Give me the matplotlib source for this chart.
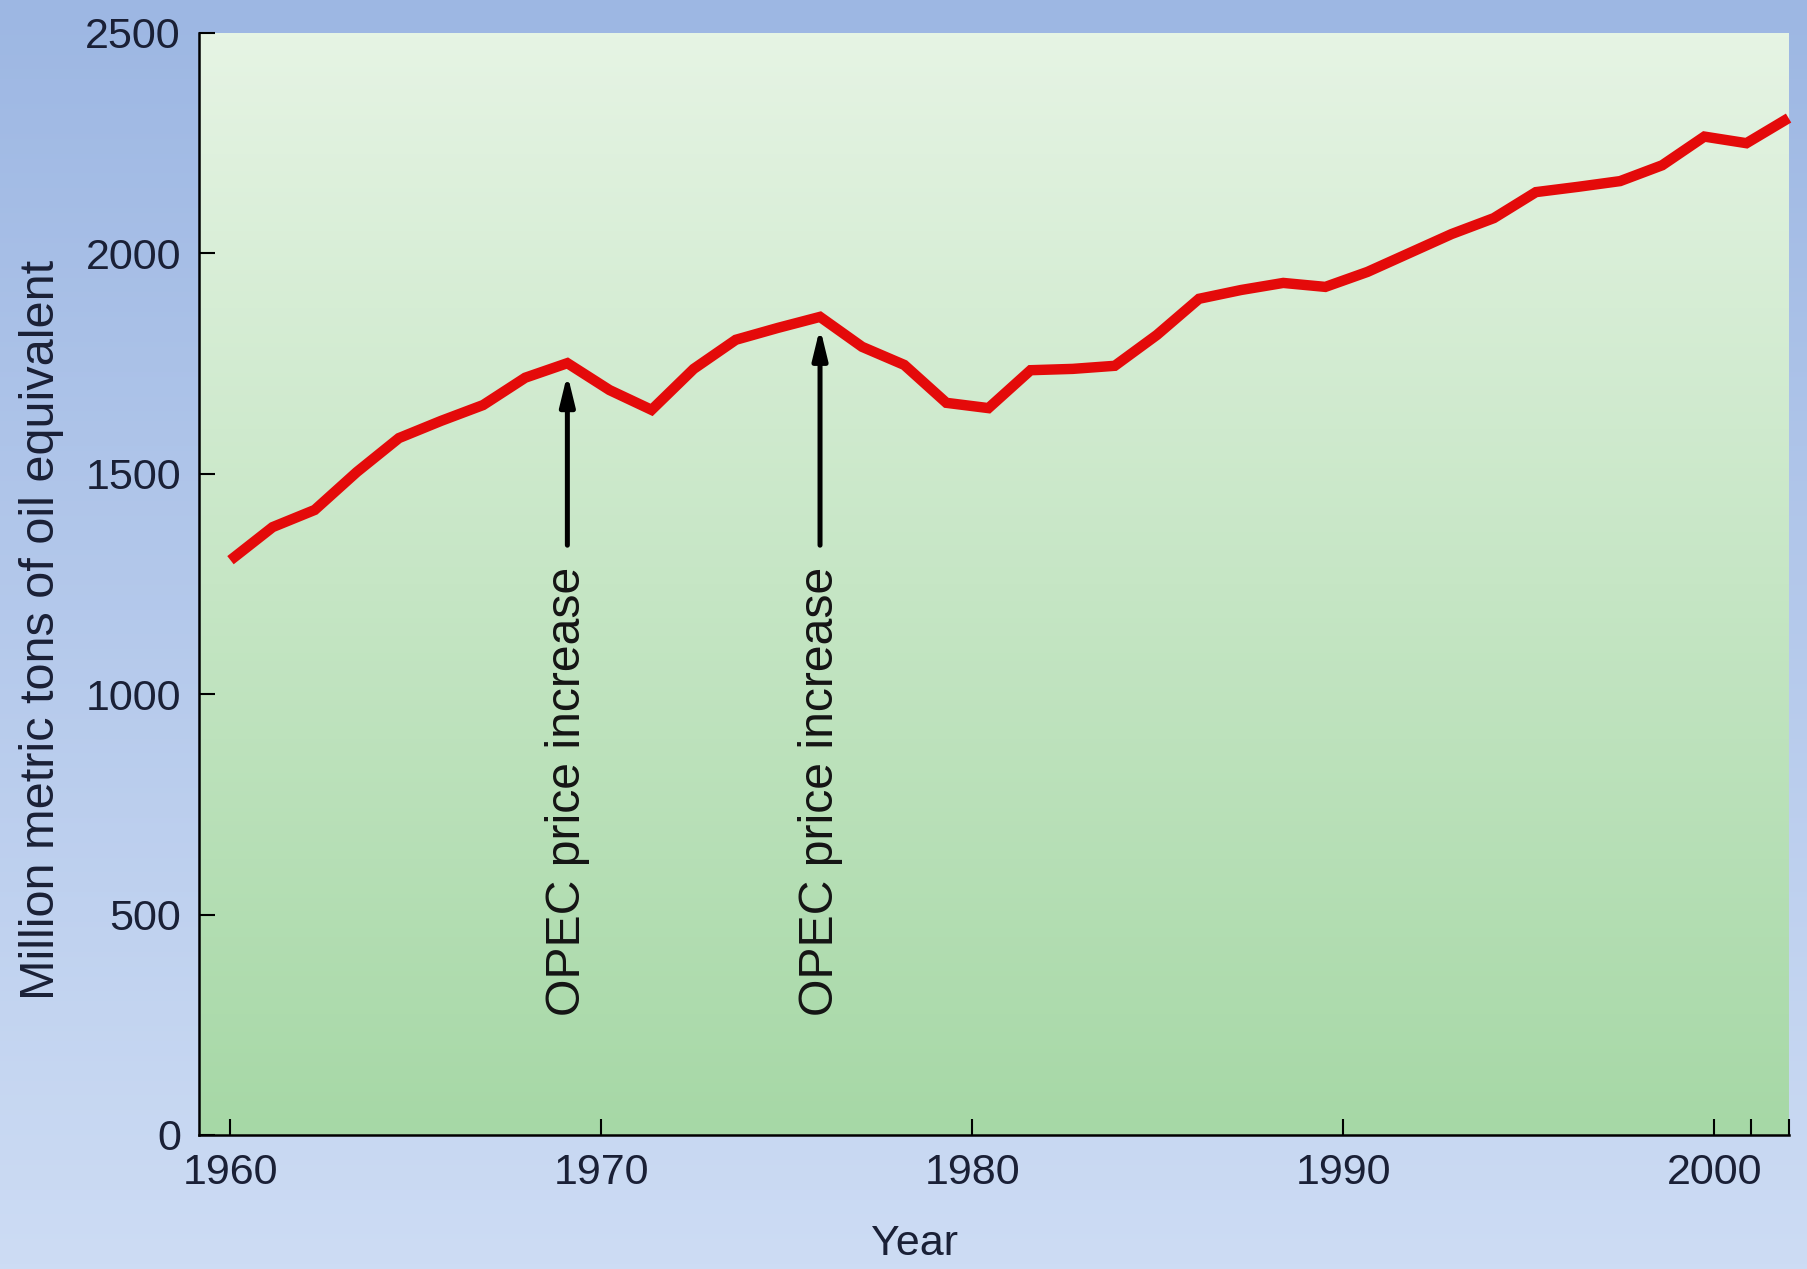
import numpy as np
import matplotlib
matplotlib.use("Agg")
import matplotlib.pyplot as plt
from matplotlib.colors import LinearSegmentedColormap

# Annual energy consumption, million metric tons of oil equivalent
consumption = [1304, 1379, 1418, 1504, 1581, 1620, 1656, 1718, 1751, 1690,
               1645, 1738, 1804, 1831, 1856, 1788, 1747, 1661, 1649, 1735,
               1738, 1745, 1815, 1897, 1917, 1933, 1924, 1958, 2001, 2044,
               2080, 2139, 2151, 2164, 2200, 2265, 2250, 2307]

x_start, x_end = 1960, 2002
labelled_years = [1960, 1970, 1980, 1990, 2000]
extra_year_ticks = [2001, 2002]
y_ticks = [0, 500, 1000, 1500, 2000, 2500]

# Series indices marked by the OPEC annotations
opec_points = [8, 14]
opec_text = "OPEC price increase"
arrow_tail_value = 1338
text_top_value = 1290

plt.rcParams["font.family"] = ["Liberation Sans", "DejaVu Sans"]

years = np.linspace(x_start, x_end, len(consumption))

fig = plt.figure(figsize=(18.07, 12.69), dpi=100)

# Blue gradient backdrop for the whole figure
bg = fig.add_axes([0, 0, 1, 1], zorder=-10)
grad = np.linspace(0, 1, 256).reshape(-1, 1)
bg_cmap = LinearSegmentedColormap.from_list("bg", ["#9db7e3", "#cddcf4"])
bg.imshow(grad, aspect="auto", cmap=bg_cmap, extent=[0, 1, 0, 1], origin="upper")
bg.axis("off")

ax = fig.add_axes([0.1101, 0.1056, 0.8797, 0.8684])
ax.patch.set_visible(False)

# Green gradient plot area
plot_cmap = LinearSegmentedColormap.from_list("plot", ["#e6f4e4", "#a6d8a6"])
ax.imshow(grad, aspect="auto", cmap=plot_cmap, extent=[0, 1, 0, 1],
          transform=ax.transAxes, origin="upper", zorder=0)

ax.plot(years, consumption, color="#e40a0a", lw=7.5,
        solid_joinstyle="miter", solid_capstyle="butt", zorder=3, clip_on=False)

for i in opec_points:
    x = years[i]
    ax.annotate("", xy=(x, consumption[i] - 25), xytext=(x, arrow_tail_value),
                arrowprops=dict(arrowstyle="-|>,head_length=0.9,head_width=0.22",
                                mutation_scale=20, lw=3.6, color="black",
                                shrinkA=0, shrinkB=0), zorder=4)
    ax.text(x, text_top_value, opec_text, rotation=90, rotation_mode="anchor",
            ha="right", va="center", fontsize=34.7, color="#141414", zorder=4)

ax.set_xlim(1959.15, x_end)
ax.set_ylim(0, 2500)

ax.set_xticks(labelled_years + extra_year_ticks)
ax.set_xticklabels([str(y) for y in labelled_years] + [""] * len(extra_year_ticks))
ax.set_yticks(y_ticks)
ax.set_yticklabels([str(v) for v in y_ticks])

for side in ("top", "right"):
    ax.spines[side].set_visible(False)
for side in ("left", "bottom"):
    ax.spines[side].set_linewidth(1.8)
    ax.spines[side].set_color("black")
    ax.spines[side].set_zorder(5)

label_color = "#1a2036"
ax.tick_params(axis="both", direction="in", length=11.5, width=1.5,
               color="black", labelsize=31, labelcolor=label_color)
ax.tick_params(axis="x", pad=13)
ax.tick_params(axis="y", pad=13)

ax.set_xlabel("Year", fontsize=31, color=label_color)
ax.xaxis.set_label_coords(0.45, -0.081)
ax.set_ylabel("Million metric tons of oil equivalent", fontsize=35, color=label_color)
ax.yaxis.set_label_coords(-0.085, 0.458)

fig.savefig("out.png", dpi=100)
